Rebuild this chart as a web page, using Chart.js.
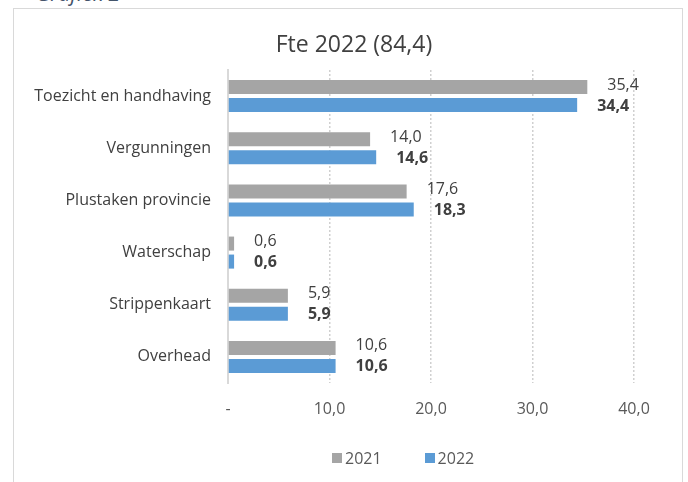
<!DOCTYPE html>
<html>
<head>
<meta charset="utf-8">
<script src="https://cdn.jsdelivr.net/npm/chart.js@4"></script>
<style>
  body { margin: 0; background: #fff; overflow: hidden; }
  #wrap { position: absolute; left: 0; top: 0; width: 688px; height: 482px; }
  #box { position: absolute; left: 13px; top: 8px; width: 670px; height: 480px; border: 1.5px solid #d9d9d9; box-sizing: border-box; }
  #caption { position: absolute; left: 36px; top: -17px; font: italic 21px/21px "Open Sans", sans-serif; color: #44546A; }
  #legend { position: absolute; left: 332px; top: 447px; }
</style>
</head>
<body>
<div id="caption">Grafiek 2</div>
<div id="box"></div>
<div id="wrap"><canvas id="fte_chart"></canvas></div>
<div id="legend"></div>
<script>
// Categories and values per year.
const categories = ['Toezicht en handhaving', 'Vergunningen', 'Plustaken provincie', 'Waterschap', 'Strippenkaart', 'Overhead'];
const values2021 = [35.4, 14.0, 17.6, 0.6, 5.9, 10.6];
const values2022 = [34.4, 14.6, 18.3, 0.6, 5.9, 10.6];
const xTicks = [0, 10, 20, 30, 40];

const FONT = 'Open Sans';
const TITLE = 'Fte 2022 (84,4)';

// Format numbers the Dutch way, one decimal.
const fmt = v => v === 0 ? '-' : v.toFixed(1).replace('.', ',');

// Draws the value next to each bar, plus the title.
const valueLabels = {
  id: 'valueLabels',
  afterDatasetsDraw(chart) {
    const ctx = chart.ctx;
    chart.data.datasets.forEach((ds, i) => {
      const meta = chart.getDatasetMeta(i);
      ctx.save();
      ctx.font = (i === 1 ? 'bold ' : '') + '16px "' + FONT + '"';
      ctx.fillStyle = '#404040';
      ctx.textAlign = 'left';
      ctx.textBaseline = 'middle';
      meta.data.forEach((bar, j) => {
        ctx.fillText(fmt(ds.data[j]), bar.x + 20, bar.y + (i === 0 ? -2 : 1));
      });
      ctx.restore();
    });
    // Title, centred on the chart box rather than the canvas.
    ctx.save();
    ctx.font = '23px "' + FONT + '"';
    ctx.fillStyle = '#404040';
    ctx.textAlign = 'center';
    ctx.textBaseline = 'middle';
    ctx.fillText(TITLE, 354, 45);
    ctx.restore();
  }
};

// Legend below the chart, built as html.
const htmlLegendPlugin = {
  id: 'htmlLegend',
  afterUpdate(chart, args, options) {
    const box = document.getElementById(options.containerID);
    while (box.firstChild) box.firstChild.remove();
    box.style.display = 'flex';
    box.style.alignItems = 'center';

    const items = chart.options.plugins.legend.labels.generateLabels(chart);
    items.forEach((item, k) => {
      const sq = document.createElement('span');
      sq.style.display = 'inline-block';
      sq.style.width = '10px';
      sq.style.height = '10px';
      sq.style.background = item.fillStyle;
      sq.style.marginRight = '3px';
      if (k > 0) sq.style.marginLeft = '43px';

      const txt = document.createElement('span');
      txt.style.font = '16px "' + FONT + '"';
      txt.style.color = '#595959';
      txt.textContent = item.text;

      box.appendChild(sq);
      box.appendChild(txt);
    });
  }
};

const fte_chart = document.getElementById('fte_chart');

let chart = new Chart(fte_chart, {
  type: 'bar',
  data: {
    labels: categories,
    datasets: [
      { label: '2021', data: values2021, backgroundColor: '#A5A5A5', barPercentage: 0.78, categoryPercentage: 0.69 },
      { label: '2022', data: values2022, backgroundColor: '#5B9BD5', barPercentage: 0.78, categoryPercentage: 0.69 }
    ]
  },
  options: {
    indexAxis: 'y',
    responsive: true,
    maintainAspectRatio: false,
    animation: false,
    layout: { padding: { left: 0, right: 54, top: 70, bottom: 53 } },
    plugins: {
      tooltip: { enabled: false },
      title: { display: false },
      legend: { display: false },
      htmlLegend: { containerID: 'legend' }
    },
    scales: {
      x: {
        min: 0,
        max: 40,
        afterBuildTicks: scale => { scale.ticks = xTicks.map(v => ({ value: v })); },
        afterFit: scale => { scale.height = 46; },
        ticks: {
          color: '#595959',
          font: { family: FONT, size: 16 },
          padding: 17,
          callback: v => fmt(v)
        },
        grid: {
          color: ctx => ctx.tick && ctx.tick.value === 0 ? 'rgba(0,0,0,0)' : '#d0d0d0',
          lineWidth: 1.5,
          drawTicks: false
        },
        border: { display: false, dash: [2, 2] }
      },
      y: {
        afterFit: scale => { scale.width = 228; },
        ticks: {
          color: '#404040',
          font: { family: FONT, size: 16 },
          padding: 17
        },
        grid: { display: false, drawTicks: false },
        border: { display: true, color: '#d9d9d9', width: 2 }
      }
    }
  },
  plugins: [valueLabels, htmlLegendPlugin]
});
</script>
</body>
</html>
